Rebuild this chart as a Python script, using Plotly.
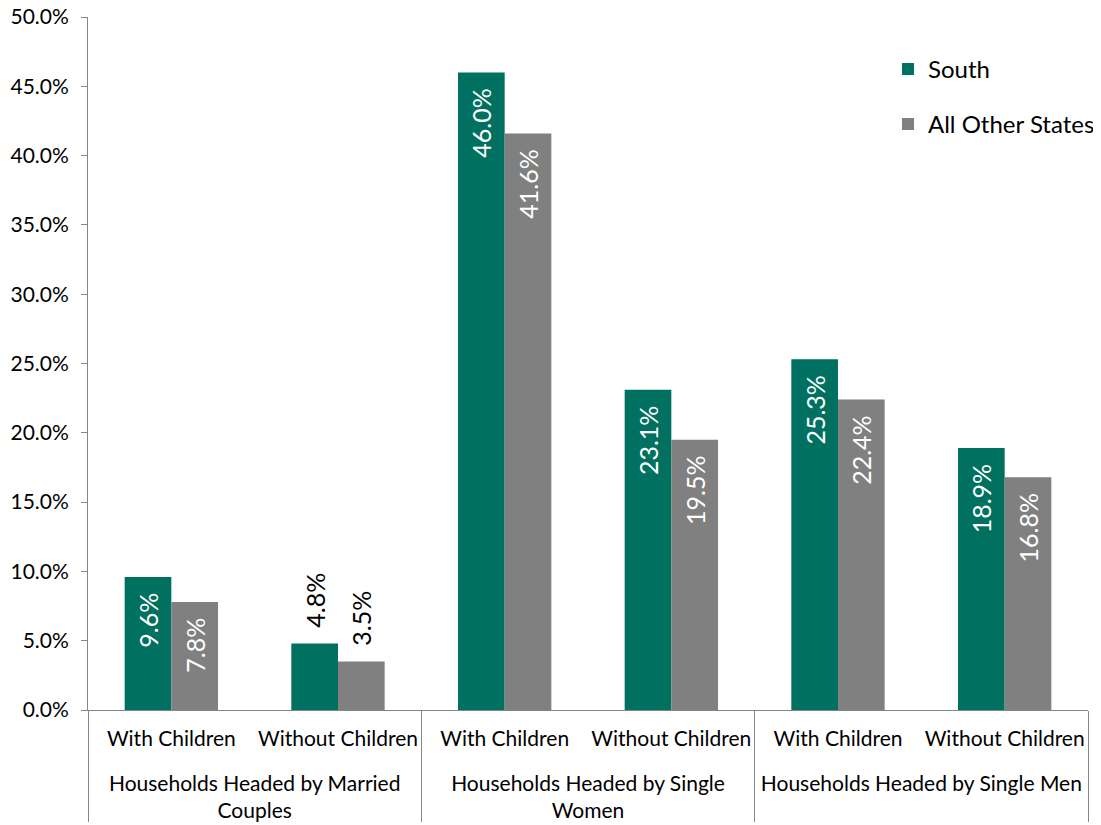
import plotly.graph_objects as go

groups = ["<br>Households Headed by Married<br>Couples", "<br>Households Headed by Married<br>Couples",
          "<br>Households Headed by Single<br>Women", "<br>Households Headed by Single<br>Women",
          "<br>Households Headed by Single Men", "<br>Households Headed by Single Men"]
subcats = ["With Children", "Without Children"] * 3
south = [9.6, 4.8, 46.0, 23.1, 25.3, 18.9]
other = [7.8, 3.5, 41.6, 19.5, 22.4, 16.8]
series_names = ["South", "All Other States"]
colors = ["#007060", "#808080"]
FONT = "Lato"
PAD = "\u00a0\u00a0"

fig = go.Figure()
for name, vals, col in zip(series_names, [south, other], colors):
    fig.add_trace(go.Bar(
        x=[groups, subcats], y=vals, name=name, marker_color=col,
        marker_line_width=0, legendgroup=name,
        text=[f"{v:.1f}%{PAD}" if v >= 6 else f"{PAD}{v:.1f}%" for v in vals],
        textposition=["inside" if v >= 6 else "outside" for v in vals],
        textangle=-90, insidetextanchor="end", constraintext="none",
        insidetextfont=dict(color="white", size=25, family=FONT),
        outsidetextfont=dict(color="black", size=25, family=FONT),
        cliponaxis=False,
    ))

# the page body adds an 8px offset; margins compensate for it
fig.update_layout(
    width=1101, height=825,
    margin=dict(l=80, r=19, t=9, b=123),
    paper_bgcolor="white", plot_bgcolor="white",
    barmode="group", bargap=0.44, bargroupgap=0,
    font=dict(family=FONT, size=21, color="black"),
    legend=dict(x=1.012, y=0.957, xanchor="right", yanchor="top",
                font=dict(size=24), tracegroupgap=21, itemwidth=30,
                bgcolor="rgba(0,0,0,0)"),
    uniformtext=dict(mode=False),
)
fig.update_yaxes(range=[0, 50], dtick=5, ticksuffix="%", tickformat=".1f",
                 showgrid=False, showline=True, linecolor="#868686", linewidth=1,
                 ticks="outside", ticklen=6, tickcolor="#868686", zeroline=False,
                 tickfont=dict(size=21), automargin=False, ticklabelstandoff=8,
                 ticklabeloverflow="allow")
fig.update_xaxes(showline=True, linecolor="#868686", linewidth=1, showgrid=False,
                 showdividers=True, dividercolor="#868686", dividerwidth=1,
                 tickfont=dict(size=21), ticks="", automargin=False,
                 tickangle=0, ticklabelstandoff=10, ticklabeloverflow="allow")
fig.write_html("out.html")
